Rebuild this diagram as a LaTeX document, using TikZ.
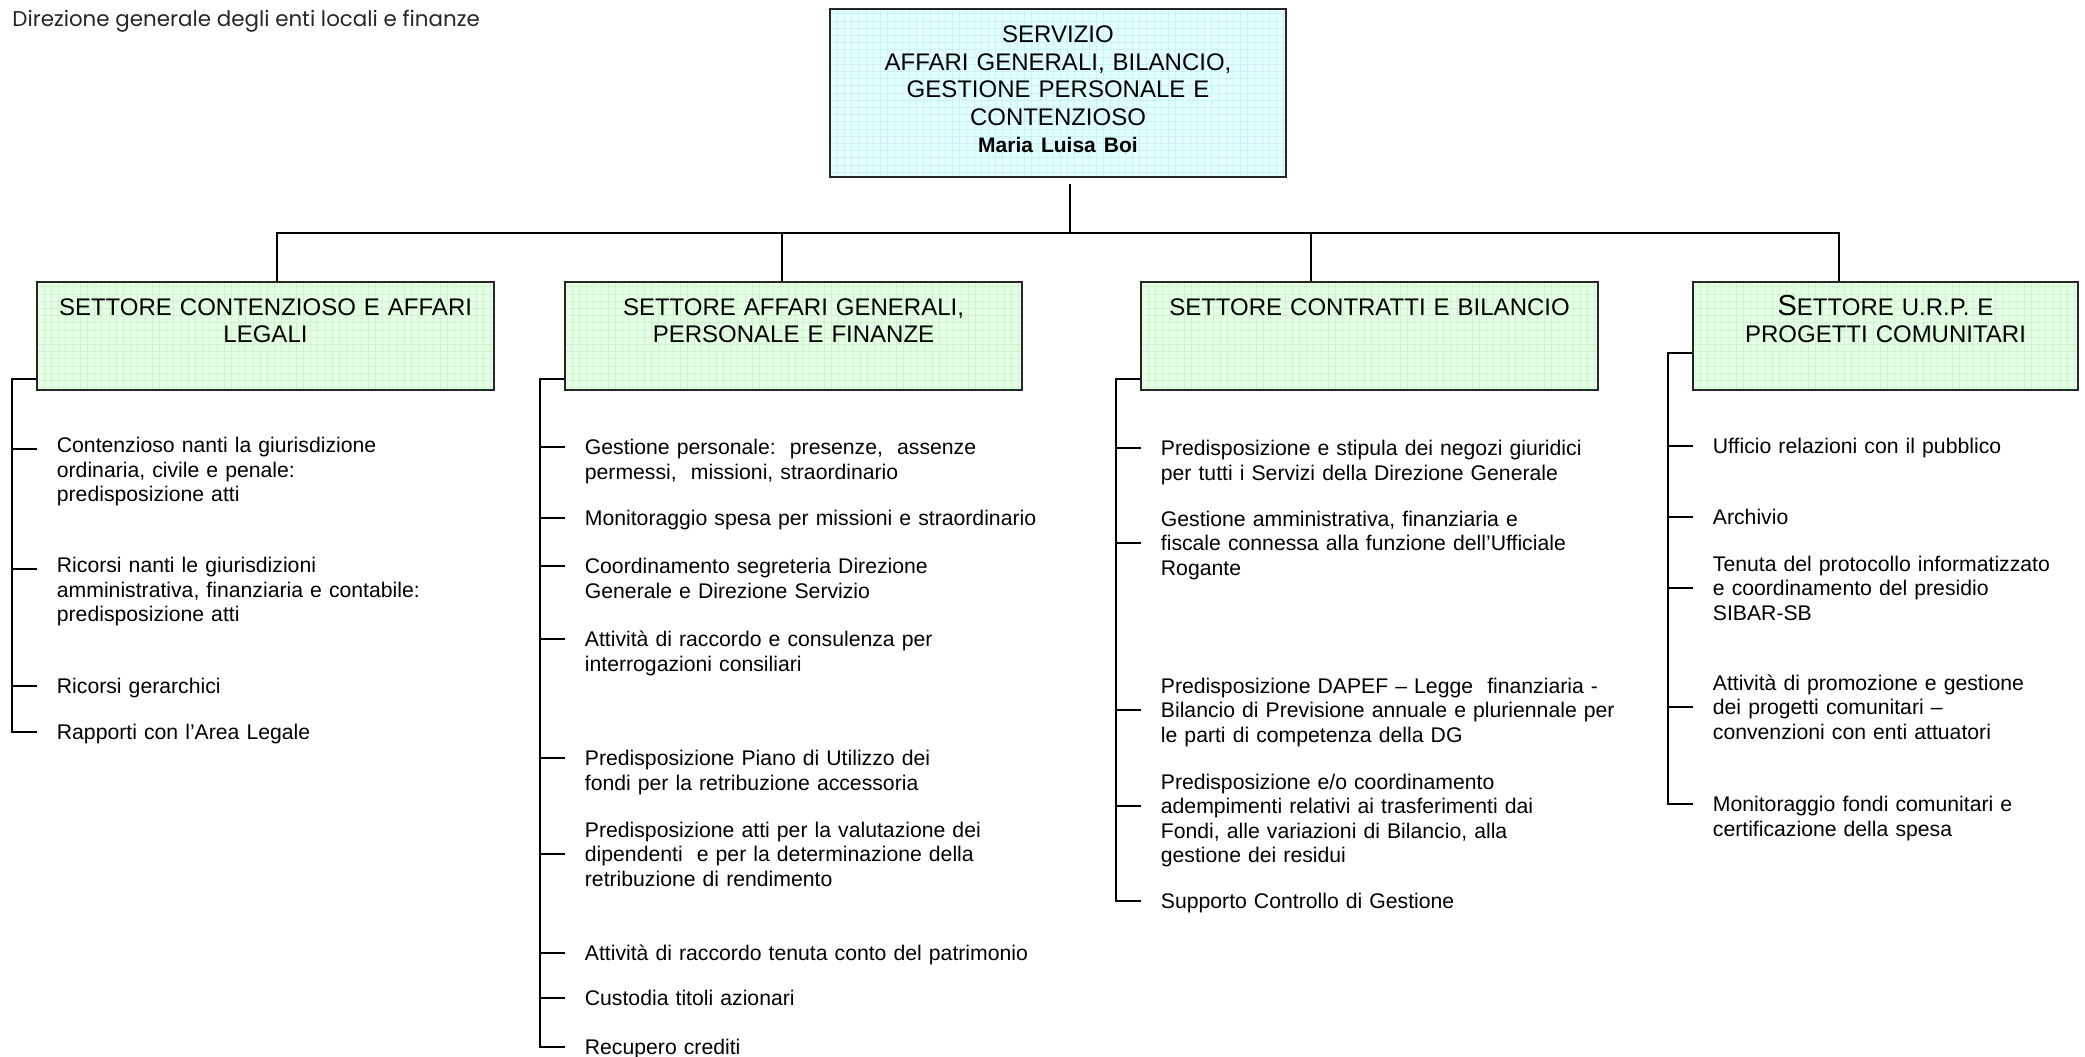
\documentclass[tikz,border=0pt]{standalone}
\usepackage{fontspec}
\setmainfont{Liberation Sans}
\newfontfamily\titlefont{Poppins}
\usepackage{tikz}

\definecolor{srvfill}{RGB}{225,255,255}
\definecolor{srvgrid}{RGB}{204,240,245}
\definecolor{setfill}{RGB}{228,255,228}
\definecolor{setgrid}{RGB}{206,244,206}

\def\dutyfont{\fontsize{10.6}{12.25}\selectfont}
\def\boxfont{\fontsize{12}{13.5}\selectfont}

\tikzset{
	gridded/.style={path picture={\draw[#1, line width=0.4pt, step=3.6pt] (path picture bounding box.south west) grid (path picture bounding box.north east);}},
	srvbox/.style={draw=black!85, line width=1pt, fill=srvfill, gridded=srvgrid, anchor=north, align=center, text width=228pt, inner xsep=0pt, inner ysep=0pt, text height=16.8pt, text depth=67.2pt, font=\fontsize{12}{13.75}\selectfont},
	setbox/.style={draw=black!85, line width=1pt, fill=setfill, gridded=setgrid, anchor=north, align=center, text width=#1, inner xsep=0pt, inner ysep=0pt, text height=16.8pt, text depth=37.2pt, font=\boxfont},
	duty/.style={anchor=west, align=left, text width=260pt, inner xsep=9.75pt, inner ysep=0pt, text height=7.6pt, text depth=0pt, font=\dutyfont},
	duty2/.style={duty, text height=0pt, text depth=16.9pt},
	link/.style={line width=1pt}
}

\begin{document}
\begin{tikzpicture}[x=0.5pt, y=-0.5pt]
		%%%%% START %%%%%
		\useasboundingbox (0,0) rectangle (2085,1056);
		
		\node[anchor=base west, inner sep=0pt, font=\titlefont\fontsize{10.7}{12}\selectfont, text=black!85] (title) at (12,26) {Direzione generale degli enti locali e finanze};
		
		\node[srvbox] (srv) at (1058,8) {SERVIZIO\\AFFARI GENERALI, BILANCIO,\\GESTIONE PERSONALE E\\CONTENZIOSO\\{\bfseries\fontsize{10.5}{13.75}\selectfont Maria Luisa Boi}};
		
		\node[setbox=228.5pt] (b1) at (265.5,281) {SETTORE CONTENZIOSO E AFFARI\\LEGALI};
		\node[setbox=228.5pt] (b2) at (793.5,281) {SETTORE AFFARI GENERALI,\\PERSONALE E FINANZE};
		\node[setbox=228.5pt] (b3) at (1369.5,281) {SETTORE CONTRATTI E BILANCIO};
		\node[setbox=192.5pt] (b4) at (1885.5,281) {{\fontsize{14.5}{13.5}\selectfont S}ETTORE U.R.P. E\\PROGETTI COMUNITARI};
		
		\coordinate (bar) at (1070,233);
		\draw[link] (srv.south -| bar) ++(0,6) -- (bar);
		\draw[link] ([xshift=5.75pt]b1.north) |- (bar) -| ([xshift=-23.25pt]b4.north);
		\draw[link] ([xshift=-5.75pt]b2.north) -- ++(0,-48);
		\draw[link] ([xshift=-29.25pt]b3.north) -- ++(0,-48);
		
		% contenzioso
		\node[duty, text height=3.6pt] (d11) at (37,449) {Contenzioso nanti la giurisdizione\\ordinaria, civile e penale:\\predisposizione atti};
		\node[duty, text height=3.6pt] (d12) at (37,569) {Ricorsi nanti le giurisdizioni\\amministrativa, finanziaria e contabile:\\predisposizione atti};
		\node[duty] (d13) at (37,686) {Ricorsi gerarchici};
		\node[duty] (d14) at (37,732) {Rapporti con l’Area Legale};
		
		% affari generali
		\node[duty] (d21) at (565,447) {Gestione personale:\ \ presenze,\ \ assenze\\permessi,\ \ missioni, straordinario};
		\node[duty] (d22) at (565,518) {Monitoraggio spesa per missioni e straordinario};
		\node[duty] (d23) at (565,566) {Coordinamento segreteria Direzione\\Generale e Direzione Servizio};
		\node[duty] (d24) at (565,639) {Attività di raccordo e consulenza per\\interrogazioni consiliari};
		\node[duty] (d25) at (565,758) {Predisposizione Piano di Utilizzo dei\\fondi per la retribuzione accessoria};
		\node[duty2] (d26) at (565,854) {Predisposizione atti per la valutazione dei\\dipendenti\ \ e per la determinazione della\\retribuzione di rendimento};
		\node[duty] (d27) at (565,953) {Attività di raccordo tenuta conto del patrimonio};
		\node[duty] (d28) at (565,998) {Custodia titoli azionari};
		\node[duty] (d29) at (565,1047) {Recupero crediti};
		
		% contratti
		\node[duty] (d31) at (1141,448) {Predisposizione e stipula dei negozi giuridici\\per tutti i Servizi della Direzione Generale};
		\node[duty2] (d32) at (1141,543) {Gestione amministrativa, finanziaria e\\fiscale connessa alla funzione dell’Ufficiale\\Rogante};
		\node[duty2] (d33) at (1141,710) {Predisposizione DAPEF – Legge\ \ finanziaria -\\Bilancio di Previsione annuale e pluriennale per\\le parti di competenza della DG};
		\node[duty2] (d34) at (1141,806) {Predisposizione e/o coordinamento\\adempimenti relativi ai trasferimenti dai\\Fondi, alle variazioni di Bilancio, alla\\gestione dei residui};
		\node[duty] (d35) at (1141,901) {Supporto Controllo di Gestione};
		
		% urp
		\node[duty] (d41) at (1693,446) {Ufficio relazioni con il pubblico};
		\node[duty] (d42) at (1693,517) {Archivio};
		\node[duty2] (d43) at (1693,588) {Tenuta del protocollo informatizzato\\e coordinamento del presidio\\SIBAR-SB};
		\node[duty2] (d44) at (1693,707) {Attività di promozione e gestione\\dei progetti comunitari –\\convenzioni con enti attuatori};
		\node[duty] (d45) at (1693,804) {Monitoraggio fondi comunitari e\\certificazione della spesa};
		
		\draw[link] ([yshift=6pt]b1.south west) -- ++(-24,0) |- (d14.west);
		\draw[link] ([yshift=6pt]b2.south west) -- ++(-24,0) |- (d29.west);
		\draw[link] ([yshift=6pt]b3.south west) -- ++(-24,0) |- (d35.west);
		\draw[link] ([yshift=19pt]b4.south west) -- ++(-24,0) |- (d45.west);
		\foreach \dn in {d11,d12,d13,d21,d22,d23,d24,d25,d26,d27,d28,d31,d32,d33,d34,d41,d42,d43,d44}
			\draw[link] (\dn.west) -- ++(-24,0);
		
		%%%%% END %%%%%
\end{tikzpicture}
\end{document}
